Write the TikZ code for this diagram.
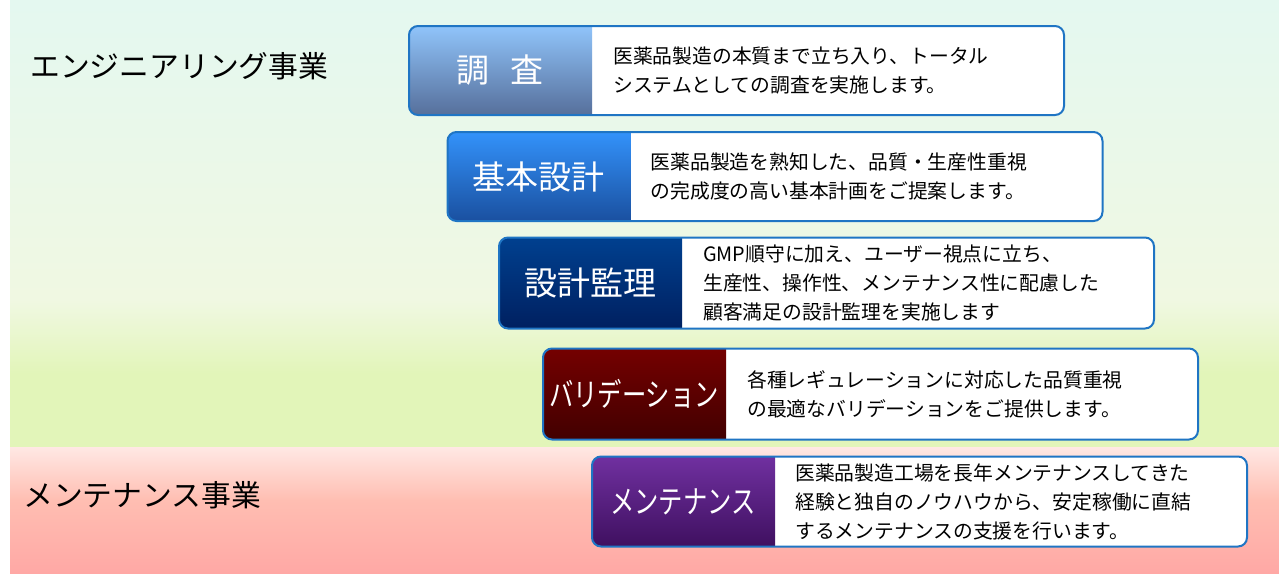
\documentclass[tikz,border=0pt]{standalone}
\usepackage{fontspec}
\setmainfont{Noto Sans CJK JP}
\newfontfamily\jpnarrow[FakeStretch=0.76]{Noto Sans CJK JP}

\definecolor{frameblue}{RGB}{31,117,196}
\definecolor{bgmint}{RGB}{228,248,240}
\definecolor{bgpale}{RGB}{240,248,226}
\definecolor{bggreen}{RGB}{226,245,185}
\definecolor{bgrose}{RGB}{255,232,228}
\definecolor{bgsalmon}{RGB}{255,190,178}
\definecolor{bgred}{RGB}{255,168,165}
\definecolor{chosatop}{RGB}{144,196,250}
\definecolor{chosabot}{RGB}{86,111,155}
\definecolor{kihontop}{RGB}{51,146,250}
\definecolor{kihonbot}{RGB}{26,80,160}
\definecolor{kanritop}{RGB}{0,64,143}
\definecolor{kanribot}{RGB}{0,32,96}
\definecolor{validtop}{RGB}{116,0,0}
\definecolor{validbot}{RGB}{66,0,0}
\definecolor{mainttop}{RGB}{112,48,160}
\definecolor{maintbot}{RGB}{63,16,96}

\begin{document}
\begin{tikzpicture}[
    x=1pt, y=-1pt,
    card/.style 2 args={rectangle, draw=frameblue, line width=2pt, rounded corners=9pt, fill=white,
        minimum width=655pt, minimum height=89pt, inner sep=0pt,
        path picture={\shade[sharp corners, top color=#1, bottom color=#2] (path picture bounding box.north west) rectangle ([xshift=183pt]path picture bounding box.south west);}},
    tag/.style={text=white, font=\fontsize{33}{36}\selectfont, inner sep=0pt},
    desc/.style={anchor=west, align=left, inner sep=0pt, font=\fontsize{19.8}{29}\selectfont},
    sector/.style={anchor=west, inner sep=0pt, font=\fontsize{29.8}{32}\selectfont}
]

% background bands
\useasboundingbox (0,0) rectangle (1279,573);
\shade[top color=bgmint, bottom color=bgpale] (10,0) rectangle (1279,300.5);
\shade[top color=bgpale, bottom color=bggreen] (10,300) rectangle (1279,373.5);
\fill[bggreen] (10,373) rectangle (1279,447);
\shade[top color=bgrose, bottom color=bgsalmon] (10,447) rectangle (1279,500.5);
\shade[top color=bgsalmon, bottom color=bgred] (10,500) rectangle (1279,573);

\node[sector] (eng) at (30,66) {エンジニアリング事業};
\node[sector] (mnt) at (23,495) {メンテナンス事業};

% survey
\node[card={chosatop}{chosabot}] (chosa) at (736.5,70.5) {};
\node[tag] (chosa-t) at ([xshift=92pt]chosa.west) {調\hspace{.65em}査};
\node[desc] (chosa-d) at ([xshift=205pt]chosa.west) {医薬品製造の本質まで立ち入り、トータル\\システムとしての調査を実施します。};

% basic design
\node[card={kihontop}{kihonbot}] (kihon) at (775,176.5) {};
\node[tag] (kihon-t) at ([xshift=92pt]kihon.west) {基本設計};
\node[desc] (kihon-d) at ([xshift=204pt]kihon.west) {医薬品製造を熟知した、品質・生産性重視\\の完成度の高い基本計画をご提案します。};

% supervision
\node[card={kanritop}{kanribot}, minimum height=91pt] (kanri) at (826.5,283) {};
\node[tag] (kanri-t) at ([xshift=92pt]kanri.west) {設計監理};
\node[desc] (kanri-d) at ([xshift=205pt]kanri.west) {GMP順守に加え、ユーザー視点に立ち、\\生産性、操作性、メンテナンス性に配慮した\\顧客満足の設計監理を実施します};

% validation
\node[card={validtop}{validbot}, minimum height=91pt] (valid) at (870.5,394) {};
\node[tag, font=\jpnarrow\fontsize{32}{36}\selectfont] (valid-t) at ([xshift=92pt]valid.west) {バリデーション};
\node[desc] (valid-d) at ([xshift=205pt]valid.west) {各種レギュレーションに対応した品質重視\\の最適なバリデーションをご提供します。};

% maintenance
\node[card={mainttop}{maintbot}, minimum height=90pt] (maint) at (919.5,501.5) {};
\node[tag, font=\jpnarrow\fontsize{32}{36}\selectfont] (maint-t) at ([xshift=92pt]maint.west) {メンテナンス};
\node[desc] (maint-d) at ([xshift=204pt]maint.west) {医薬品製造工場を長年メンテナンスしてきた\\経験と独自のノウハウから、安定稼働に直結\\するメンテナンスの支援を行います。};

\end{tikzpicture}
\end{document}
